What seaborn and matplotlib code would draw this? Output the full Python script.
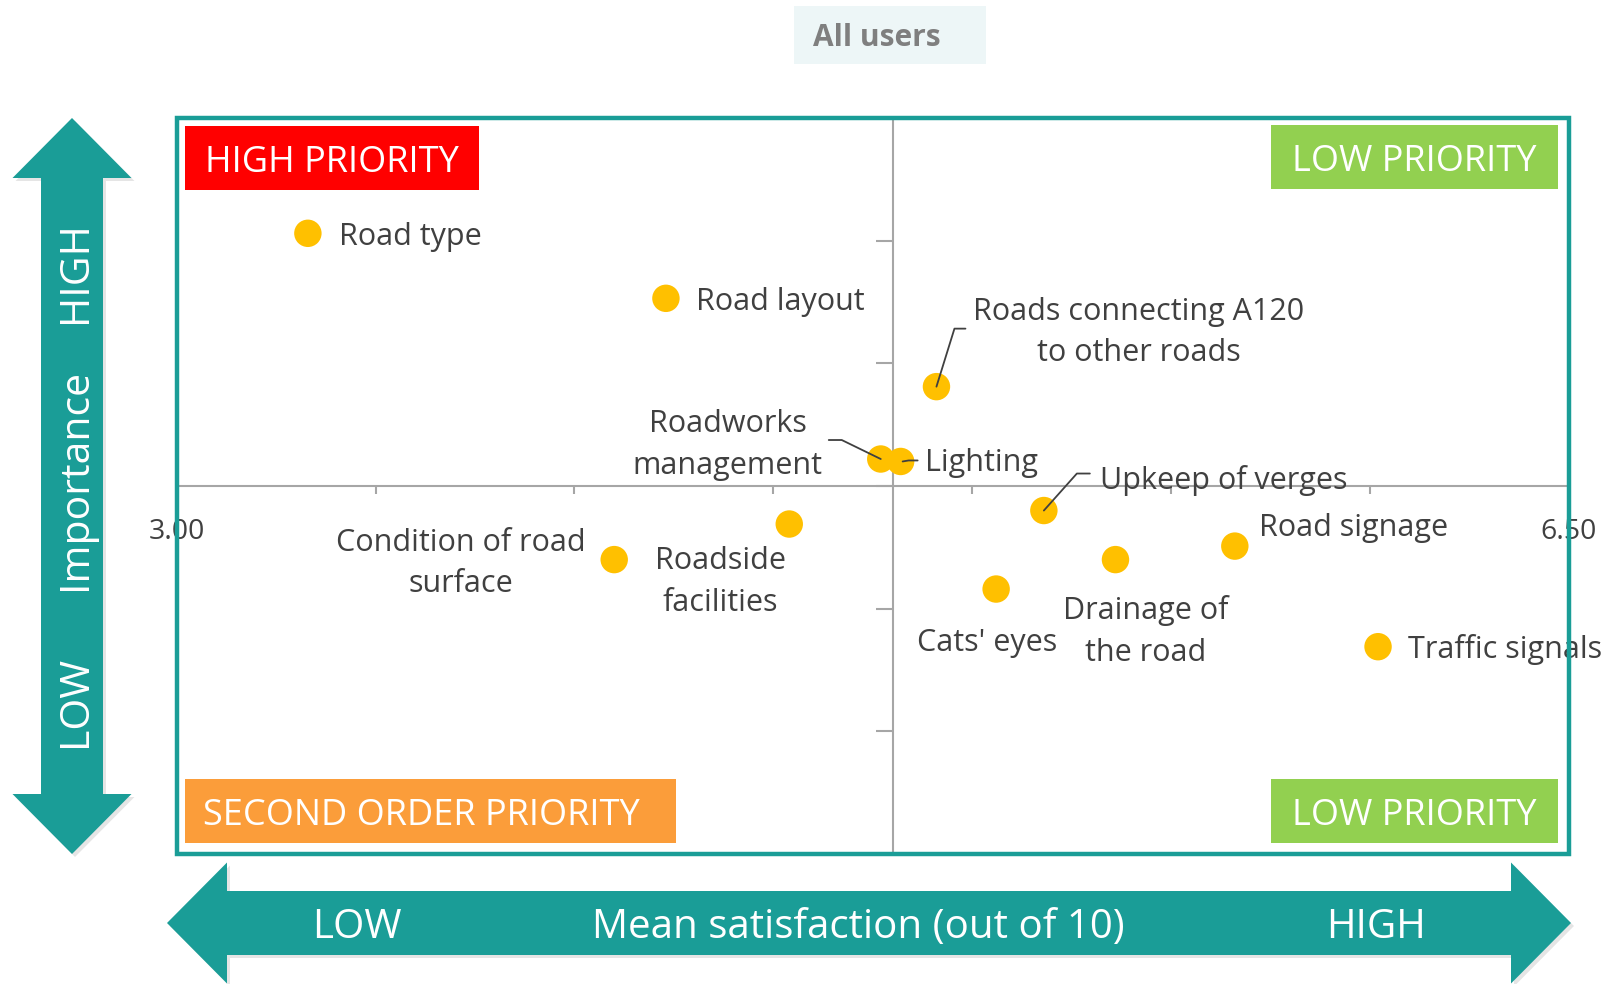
import numpy as np
import pandas as pd
import matplotlib
matplotlib.use("Agg")
import matplotlib.pyplot as plt
import matplotlib.transforms as mtransforms
from matplotlib.patches import Polygon, Rectangle
import seaborn as sns

# ---------------- data ----------------
attributes = ["Road type", "Road layout", "Roads connecting A120\nto other roads",
              "Roadworks\nmanagement", "Lighting", "Upkeep of verges",
              "Roadside\nfacilities", "Condition of road\nsurface", "Road signage",
              "Drainage of\nthe road", "Cats' eyes", "Traffic signals"]
satisfaction = [3.33, 4.23, 4.91, 4.77, 4.82, 5.18, 4.54, 4.10, 5.66, 5.36, 5.06, 6.02]
importance = [0.506, 0.453, 0.381, 0.322, 0.320, 0.280, 0.269, 0.240, 0.251, 0.240, 0.216, 0.169]

x_ticks = [3.0, 3.5, 4.0, 4.5, 5.0, 5.5, 6.0, 6.5]
x_tick_labels = ["3.00", "", "", "", "", "", "", "6.50"]
y_ticks = [0.0, 0.1, 0.2, 0.3, 0.4, 0.5, 0.6]
x_cross = 4.80
y_cross = 0.30

quadrant_labels = ["HIGH PRIORITY", "LOW PRIORITY", "SECOND ORDER PRIORITY", "LOW PRIORITY"]
title = "All users"
x_axis_words = ["LOW", "Mean satisfaction (out of 10)", "HIGH"]
y_axis_words = ["HIGH", "Importance", "LOW"]

# ---------------- layout / style (not data) ----------------
# label offsets in pixels relative to each point (dx, dy up), alignment
label_offsets = [(31, -4), (30, -4), (202, 54), (-153, 14), (24, -2), (56, 30),
                 (-69, -58), (-153, -4), (24, 18), (30, -72), (-9, -54), (30, -3)]
label_ha = ["left", "left", "center", "center", "left", "left",
            "center", "center", "left", "center", "center", "left"]
# leader polylines (pixel offsets from point)
leaders = {2: [(0, 0), (18, 58), (29, 58)],
           3: [(0, 0), (-39, 19), (-52, 19)],
           4: [(2, 0), (8, 1), (17, 1)],
           5: [(0, 0), (33, 37), (46, 37)]}

TEAL = "#1a9d97"
TXT = "#404040"
W, H = 1610, 984

sns.set_theme(style="white")
plt.rcParams["font.family"] = ["Open Sans", "DejaVu Sans"]

fig = plt.figure(figsize=(W / 100, H / 100), dpi=100)
fig.patch.set_facecolor("white")

ax_l, ax_r, ax_t, ax_b = 176.6, 1569.0, 118.0, 854.0
ax = fig.add_axes([ax_l / W, 1 - ax_b / H, (ax_r - ax_l) / W, (ax_b - ax_t) / H])

df = pd.DataFrame({"attribute": attributes, "satisfaction": satisfaction,
                   "importance": importance})
sns.scatterplot(data=df, x="satisfaction", y="importance", ax=ax, s=390,
                color="#ffc000", edgecolor="none", linewidth=0, zorder=4, legend=False)

ax.set_xlim(x_ticks[0], x_ticks[-1])
ax.set_ylim(y_ticks[0], y_ticks[-1])
ax.set_xlabel("")
ax.set_ylabel("")
ax.set_xticks(x_ticks)
ax.set_xticklabels(x_tick_labels)
ax.set_yticks(y_ticks)
ax.set_yticklabels([])
for s in ["top", "right"]:
    ax.spines[s].set_visible(False)
ax.spines["left"].set_position(("data", x_cross))
ax.spines["bottom"].set_position(("data", y_cross))
for s in ["left", "bottom"]:
    ax.spines[s].set_color("#a6a6a6")
    ax.spines[s].set_linewidth(1.5)
    ax.spines[s].set_zorder(2)
ax.tick_params(axis="x", direction="out", length=6, width=1.5, color="#a6a6a6",
               pad=17, labelsize=20.5, labelcolor=TXT, bottom=True)
ax.tick_params(axis="y", direction="out", length=12, width=1.5, color="#a6a6a6",
               left=True, labelleft=False)
ax.grid(False)

# teal frame
ax.add_patch(Rectangle((0, 0), 1, 1, transform=ax.transAxes, fill=False,
                       edgecolor=TEAL, linewidth=3.2, clip_on=False, zorder=6))

# quadrant boxes (axes fraction)
boxes = [((0.0059, 0.902), (0.2175 - 0.0059, 0.9887 - 0.902), "#ff0000"),
         ((0.786, 0.9035), (0.9918 - 0.786, 0.990 - 0.9035), "#92d050"),
         ((0.0059, 0.0149), (0.3584 - 0.0059, 0.1015 - 0.0149), "#fb9d3a"),
         ((0.786, 0.0149), (0.9918 - 0.786, 0.1015 - 0.0149), "#92d050")]
for (xy, (bw, bh), col), lab in zip(boxes, quadrant_labels):
    ax.add_patch(Rectangle(xy, bw, bh, transform=ax.transAxes, facecolor=col,
                           edgecolor="none", zorder=5, clip_on=False))
    cxp = xy[0] + bw / 2 - (0.006 if lab.startswith("SECOND") else 0)
    ax.text(cxp, xy[1] + bh / 2 - 0.006, lab, transform=ax.transAxes, ha="center",
            va="center", color="white", fontsize=26, zorder=6)

# point labels
for i, lab in enumerate(attributes):
    dx, dy = label_offsets[i]
    ax.annotate(lab, xy=(satisfaction[i], importance[i]), xytext=(dx, dy),
                textcoords="offset pixels", ha=label_ha[i], va="center",
                multialignment="center", fontsize=22, color=TXT,
                linespacing=1.5, zorder=5)

# leader lines
for i, pts in leaders.items():
    px, py = ax.transData.transform((satisfaction[i], importance[i]))
    xs = [px + p[0] for p in pts]
    ys = [py + p[1] for p in pts]
    fig.add_artist(plt.Line2D(xs, ys, transform=mtransforms.IdentityTransform(),
                              color=TXT, linewidth=1.3, zorder=7))


def fig_poly(verts, **kw):
    v = [(x / W, 1 - y / H) for x, y in verts]
    p = Polygon(v, closed=True, transform=fig.transFigure, **kw)
    fig.add_artist(p)


# vertical double arrow
cx, top, bot, hw, sw, hl = 72, 118, 854, 59.5, 31, 60
vverts = [(cx, top), (cx + hw, top + hl), (cx + sw, top + hl), (cx + sw, bot - hl),
          (cx + hw, bot - hl), (cx, bot), (cx - hw, bot - hl), (cx - sw, bot - hl),
          (cx - sw, top + hl), (cx - hw, top + hl)]
fig_poly([(x + 3, y + 3) for x, y in vverts], facecolor="black", alpha=0.10,
         edgecolor="none", zorder=0)
fig_poly(vverts, facecolor=TEAL, edgecolor="none", zorder=1)
for word, yc in zip(y_axis_words, [272, 479.5, 701]):
    fig.text((cx + 4) / W, 1 - yc / H, word, rotation=90, ha="center", va="center",
             color="white", fontsize=29.5, zorder=3)

# horizontal double arrow
cy, lft, rgt, hh, sh, hl2 = 923, 167, 1571, 60.5, 32, 60
hverts = [(lft, cy), (lft + hl2, cy - hh), (lft + hl2, cy - sh), (rgt - hl2, cy - sh),
          (rgt - hl2, cy - hh), (rgt, cy), (rgt - hl2, cy + hh), (rgt - hl2, cy + sh),
          (lft + hl2, cy + sh), (lft + hl2, cy + hh)]
fig_poly([(x + 3, y + 3) for x, y in hverts], facecolor="black", alpha=0.10,
         edgecolor="none", zorder=0)
fig_poly(hverts, facecolor=TEAL, edgecolor="none", zorder=1)
for word, xc in zip(x_axis_words, [357, 858.5, 1376]):
    fig.text(xc / W, 1 - (cy + 5) / H, word, ha="center", va="center",
             color="white", fontsize=29, zorder=3)

# title box
fig.add_artist(Rectangle((794 / W, 1 - 64 / H), 192 / W, 58 / H,
                         transform=fig.transFigure, facecolor="#edf6f7",
                         edgecolor="none", zorder=0))
fig.text(877 / W, 1 - 38 / H, title, ha="center", va="center", color="#7f7f7f",
         fontsize=21.5, fontweight="bold")

fig.savefig("out.png", dpi=100)
